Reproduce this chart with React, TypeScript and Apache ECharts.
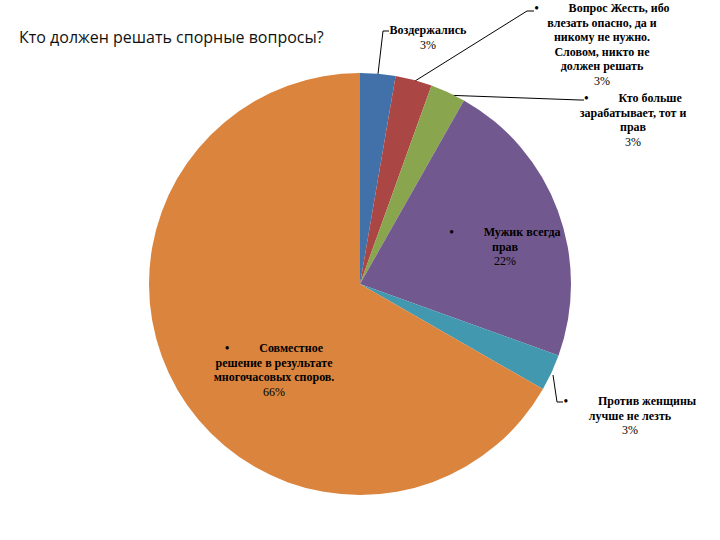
import React, { useEffect, useRef } from "react";
import * as echarts from "echarts";

const categories = [
  "Воздержались",
  "Вопрос Жесть, ибо\nвлезать опасно, да и\nникому не нужно.\nСловом, никто не\nдолжен решать",
  "Кто больше\nзарабатывает, тот и\nправ",
  "Мужик всегда\nправ",
  "Против женщины\nлучше не лезть",
  "Совместное\nрешение в результате\nмногочасовых споров.",
];
const values = [2.7, 2.8, 2.7, 22.3, 2.8, 66.7];
const percentLabels = ["3%", "3%", "3%", "22%", "3%", "66%"];
const bullets = [false, true, true, true, true, true];
const colors = ["#4270A8", "#AA4643", "#89A54E", "#71588F", "#4198AF", "#DB843D"];
const titleText = "Кто должен решать спорные вопросы?";

// label placement (center x, top y) and leader line points
const labelPos: { x: number; y: number; line: number[][] | null }[] = [
  { x: 428, y: 23, line: [[378, 74], [383, 31], [389, 31]] },
  { x: 602, y: 1, line: [[415, 81], [527, 11], [534, 11]] },
  { x: 633, y: 91, line: [[442, 95], [580, 100], [584, 100]] },
  { x: 505, y: 225, line: null },
  { x: 630, y: 394, line: [[553, 375], [557, 402], [563, 402]] },
  { x: 274, y: 341, line: null },
];

const SERIF = "'Liberation Serif', 'DejaVu Serif', serif";

export default function App() {
  const ref = useRef<HTMLDivElement>(null);
  useEffect(() => {
    if (!ref.current) return;
    const chart = echarts.init(ref.current, null, { renderer: "svg" });
    const data = categories.map((c, i) => {
      const lines = c.split("\n");
      const first = (bullets[i] ? "•          " : "") + lines[0];
      const txt = [first, ...lines.slice(1)].map((l) => `{n|${l}}`).join("\n") + `\n{p|${percentLabels[i]}}`;
      return {
        name: c,
        value: values[i],
        itemStyle: { color: colors[i] },
        label: { formatter: txt },
        labelLine: { show: labelPos[i].line !== null },
      };
    });
    chart.setOption({
      animation: false,
      title: {
        text: titleText,
        left: 14,
        top: 24,
        textStyle: {
          fontFamily: "Open Sans",
          fontSize: 16,
          fontWeight: "normal",
          color: "#111",
        },
      },
      series: [
        {
          type: "pie",
          center: [360, 284],
          radius: 211,
          startAngle: 90,
          clockwise: true,
          avoidLabelOverlap: false,
          data,
          label: {
            show: true,
            position: "outside",
            align: "center",
            color: "#000",
            fontFamily: SERIF,
            fontSize: 12,
            rich: {
              n: {
                fontFamily: SERIF,
                fontSize: 12,
                fontWeight: "bold",
                lineHeight: 14.5,
                color: "#000",
                align: "center",
              },
              p: {
                fontFamily: SERIF,
                fontSize: 12,
                fontWeight: "normal",
                lineHeight: 14.5,
                color: "#000",
                align: "center",
              },
            },
          },
          labelLine: {
            show: true,
            lineStyle: { color: "#000", width: 1 },
          },
          labelLayout: (params: any) => {
            const p = labelPos[params.dataIndex];
            const o: any = { x: p.x, y: p.y, align: "center", verticalAlign: "top" };
            if (p.line) o.labelLinePoints = p.line;
            return o;
          },
          emphasis: { disabled: true },
        },
      ],
    });
    return () => chart.dispose();
  }, []);
  return (
    <div
      ref={ref}
      style={{ position: "fixed", left: 0, top: 0, width: 720, height: 540, background: "#fff" }}
    />
  );
}
